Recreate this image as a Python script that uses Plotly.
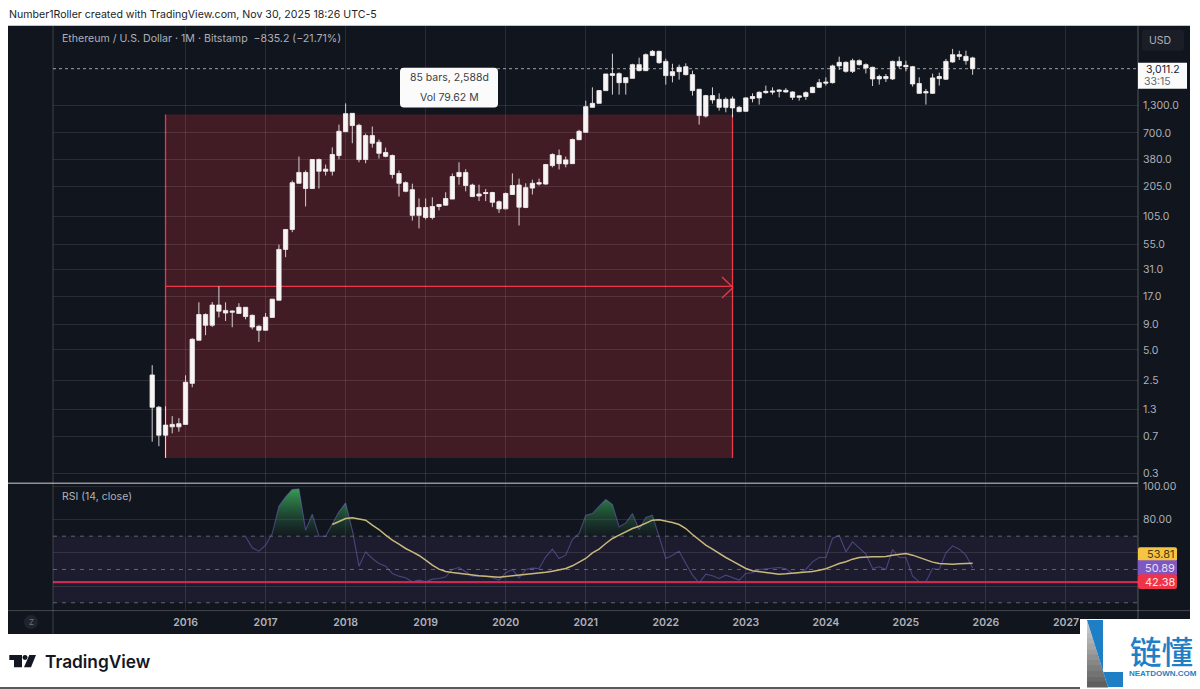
import numpy as np
import pandas as pd
import plotly.graph_objects as go

months = [d.strftime("%Y-%m") for d in pd.date_range("2015-08-01", periods=124, freq="MS")]
open_ = [2.83,1.36,.72,.87,.87,.92,2.34,6.24,11.2,8.78,13.9,12.3,11.8,11.5,13.2,11.0,8.58,7.83,10.5,15.5,
 49.3,77.6,222,284,197,381,292,292,417,719,1090,830,381,657,565,410,417,277,225,192,
 107,128,102,131,135,155,259,284,213,166,180,180,146,124,172,213,128,199,218,218,
 332,417,344,347,598,708,1250,1369,1828,2586,2690,2190,2416,3300,2880,4074,4465,3555,2572,2815,
 3150,2630,1885,1025,1632,1500,1250,1514,1250,1142,1524,1549,1746,1815,1798,1840,1773,1570,1600,1746,
 1970,2225,2190,3208,3478,2835,3615,3300,3105,2386,2520,2386,3555,3250,3150,2150,1736,1718,2402,2370,
 3510,4142,3990,3846]
high = [3.54,1.40,1.39,1.11,1.06,2.81,6.53,14.8,11.5,14.9,21.3,14.8,12.3,14.5,13.3,11.2,8.78,11.6,15.9,55,
 78,236,408,297,385,390,340,503,844,1369,1095,860,688,807,601,500,427,297,232,220,
 157,157,161,139,181,277,358,306,220,215,195,183,150,180,278,247,222,241,247,345,
 439,478,408,615,750,1456,1970,1850,2670,4237,2770,2470,3370,3872,4265,4610,4537,3785,3370,3300,
 3400,2880,1900,1660,1970,1718,1570,1600,1290,1570,1718,1800,2050,1970,1885,1935,1798,1632,1798,2002,
 2386,2473,3300,3960,3555,3785,3725,3400,3150,2630,2670,3615,3960,3615,3208,2473,1900,2690,2750,3760,
 4720,4537,4537,3950]
low = [.62,.56,.43,.75,.78,.92,2.14,6.24,7.0,8.43,10.5,9.67,8.39,11.5,10.05,8.0,6.0,7.83,10.5,15.5,
 41.3,73,222,131,197,197,265,265,383,719,552,358,350,500,390,400,247,164,181,95,
 79.5,97.5,97.5,120,134,155,215,185,162,148,148,129,113,123,170,85,126,172,211,215,
 319,304,319,347,598,708,1250,1369,1828,1669,1669,1669,2416,2835,2850,4000,3370,2094,2207,2347,
 2586,1632,844,990,1360,1160,1116,996,1120,1134,1400,1330,1700,1669,1570,1746,1480,1456,1480,1736,
 1935,2050,2150,2925,2750,2730,3230,2700,2030,2094,2225,2330,3040,2835,2002,1700,1330,1695,2050,2330,
 3452,3670,3300,2620]
close = [1.36,.72,.905,.92,.935,2.40,6.38,11.2,8.78,13.9,12.1,11.6,12.1,13.2,10.7,8.43,7.83,10.55,15.9,49.3,
 77.6,225,284,197,381,292,306,427,724,1083,825,381,657,552,439,447,271,222,185,107,
 128,102,131,137,157,259,284,211,164,174,176,144,124,176,211,129,201,222,225,340,
 427,347,378,601,724,1270,1369,1828,2670,2690,2190,2457,3300,2880,4142,4465,3452,2572,2815,3105,
 2630,1828,1036,1632,1480,1250,1500,1234,1134,1549,1600,1758,1798,1773,1850,1773,1570,1622,1746,1970,
 2190,2170,3208,3478,2835,3615,3300,3060,2386,2520,2402,3555,3208,3150,2127,1718,1786,2441,2520,3555,
 4142,3990,3615,3011.2]

rsi_first_bar = 14
rsi = [69.6,63,61,64.6,71.6,88,93.6,98,98.4,73.6,83.2,70,70,77,84.6,90,73.6,52,60.6,56.6,53.6,52,47.6,46,45,42.6,43.6,42.6,44.2,44.6,
 45.6,50,51.2,48.6,46,46,46,45.2,43.6,48,50,45,50,50.8,50.6,57.6,62.2,56.6,58.6,68,71.6,82.6,83.6,88,92,89,75.6,78,83.6,74,
 81.2,82.6,69.6,56.6,58.6,61,53.6,46.6,42,47.2,46.2,44.6,46.6,45,43.6,47.6,48,50,50.4,50.6,51.2,50.4,47.6,48,50,54.6,57.2,57.2,68.6,70.6,
 60.6,66.6,62.6,59.2,50.6,51.6,50,62,57.2,57.2,46,42.6,42.6,50.6,50,60,64.2,62.2,58.6,50.89]
sma_first_bar = 27
rsi_sma = [77,78.6,80.6,81,80.2,79.6,76.6,74,70.6,67.6,65.2,62.6,60.6,58.4,55.6,52.6,50.2,48.8,48.2,47.6,47,46.4,46.2,46,45.6,45.4,45.8,46.2,46.4,46.8,
 47.4,47.8,48.4,49,49.6,50.6,52.2,54.2,56.6,60,62.2,65.6,68.6,70.6,72.6,74.6,76,77.6,79.6,79.8,79.2,78.2,77,74.6,71,67.6,64.6,62.2,59.6,57.2,
 55,52.6,50.6,49.2,48.6,48,47.4,47.2,47.4,47.8,48,48.2,48.8,49.6,50.4,52,53.6,54.6,56.2,57.2,57.6,57.6,57.6,57.8,58.6,59.2,59.6,58.6,57.2,55.6,
 54.4,53.6,53.2,53.2,53.4,53.8,53.81]

year_labels = ["2016","2017","2018","2019","2020","2021","2022","2023","2024","2025","2026","2027"]
price_ticks = [1300,700,380,205,105,55,31,17,9,5,2.5,1.3,.7,.3]
price_tick_text = ["1,300.0","700.0","380.0","205.0","105.0","55.0","31.0","17.0","9.0","5.0","2.5","1.3","0.7","0.3"]
rsi_ticks = [100,80,60,40]
rsi_tick_text = ["100.00","80.00","",""]
range_first_bar, range_last_bar = 2, 87
range_high, range_low = 1059, .427
last_price = 3011.2
rsi_band = (70, 50, 30)
rsi_marker = 42.38

W, H = 1200, 689
px = lambda x: x / W
py = lambda y: 1 - (y - (3.3 - 0.0048 * y)) / H
DARK = "#11151d"
GRID = "rgba(255,255,255,0.10)"
RED = "#e8384a"
TXT = "#aeb1ba"
FONT = "Inter, Roboto, sans-serif"

bars = np.arange(len(months))
year_bars = [months.index("2016-01") + 12 * i for i in range(len(year_labels))]
bar_px0, bar_dx = 152.2, 6.67
x_range = [(53 - bar_px0) / bar_dx, (1138 - bar_px0) / bar_dx]

fig = go.Figure()
fig.add_trace(go.Scatter(x=x_range, y=[last_price, last_price], mode="lines",
    line=dict(color="rgba(235,235,235,0.65)", width=1, dash="dot"), hoverinfo="skip", xaxis="x", yaxis="y"))
fig.add_trace(go.Candlestick(x=bars, open=open_, high=high, low=low, close=close, whiskerwidth=0,
    increasing=dict(line=dict(color="rgba(245,240,240,0.85)", width=1), fillcolor="#f7f5f5"),
    decreasing=dict(line=dict(color="rgba(245,240,240,0.85)", width=1), fillcolor="#f7f5f5"),
    hoverinfo="skip", xaxis="x", yaxis="y"))

rsi_x = np.arange(len(rsi)) + rsi_first_bar
sma_x = np.arange(len(rsi_sma)) + sma_first_bar
fig.add_trace(go.Scatter(x=rsi_x, y=[rsi_band[0]] * len(rsi), mode="lines", line=dict(width=0),
    hoverinfo="skip", xaxis="x2", yaxis="y2"))
fig.add_trace(go.Scatter(x=rsi_x, y=np.maximum(rsi, rsi_band[0]), mode="lines", line=dict(width=0), fill="tonexty",
    fillgradient=dict(type="vertical", start=100, stop=70,
                      colorscale=[[0, "rgba(60,175,90,0.95)"], [1, "rgba(40,110,70,0.05)"]]),
    hoverinfo="skip", xaxis="x2", yaxis="y2"))
fig.add_trace(go.Scatter(x=rsi_x, y=rsi, mode="lines", line=dict(color="rgba(120,105,205,0.5)", width=1.1),
    hoverinfo="skip", xaxis="x2", yaxis="y2"))
fig.add_trace(go.Scatter(x=sma_x, y=rsi_sma, mode="lines", line=dict(color="#c9b87c", width=1.5),
    hoverinfo="skip", xaxis="x2", yaxis="y2"))

shapes = []
def rect(x0, y0, x1, y1, fill, layer="below"):
    shapes.append(dict(type="rect", xref="paper", yref="paper", x0=px(x0), x1=px(x1), y0=py(y0), y1=py(y1),
                       fillcolor=fill, line=dict(width=0), layer=layer))
def poly(pts, fill, layer="above"):
    path = "M " + " L ".join(f"{px(a):.5f},{py(b):.5f}" for a, b in pts) + " Z"
    shapes.append(dict(type="path", xref="paper", yref="paper", path=path, fillcolor=fill, line=dict(width=0), layer=layer))
def seg(x0, y0, x1, y1, color, width=1, dash=None, layer="above"):
    shapes.append(dict(type="line", xref="paper", yref="paper", x0=px(x0), x1=px(x1), y0=py(y0), y1=py(y1),
                       line=dict(color=color, width=width, dash=dash), layer=layer))
def rrect(x0, y0, x1, y1, r, fill):
    pts = [(x0 + r, y0), (x1 - r, y0), (x1, y0), (x1, y0 + r), (x1, y1 - r), (x1, y1), (x1 - r, y1), (x0 + r, y1), (x0, y1), (x0, y1 - r), (x0, y0 + r), (x0, y0)]
    f = lambda p: f"{px(p[0]):.5f},{py(p[1]):.5f}"
    path = f"M {f(pts[0])} L {f(pts[1])} Q {f(pts[2])} {f(pts[3])} L {f(pts[4])} Q {f(pts[5])} {f(pts[6])} L {f(pts[7])} Q {f(pts[8])} {f(pts[9])} L {f(pts[10])} Q {f(pts[11])} {f(pts[0])} Z"
    shapes.append(dict(type="path", xref="paper", yref="paper", path=path, fillcolor=fill, line=dict(width=0), layer="above"))

rect(0, -3, W, -1.2, "#2b2b2b")
rect(8, 25, 1190, 634, DARK)
rect(0, 687, 1080, 689, "#5a5a5a")
# measured range on the price pane
mid = float(np.sqrt(range_high * range_low))
shapes.append(dict(type="rect", xref="x", yref="y", x0=range_first_bar, x1=range_last_bar, y0=range_low, y1=range_high,
                   fillcolor="rgba(242,54,69,0.22)", line=dict(width=0), layer="below"))
for xa, ya, xb, yb in [(range_first_bar, range_low, range_first_bar, range_high),
                       (range_last_bar, range_low, range_last_bar, range_high),
                       (range_first_bar, mid, range_last_bar, mid)]:
    shapes.append(dict(type="line", xref="x", yref="y", x0=xa, x1=xb, y0=ya, y1=yb,
                       line=dict(color=RED, width=1.3), layer="below"))
# RSI band and levels
shapes.append(dict(type="rect", xref="paper", yref="y2", x0=px(53), x1=px(1138), y0=rsi_band[2], y1=rsi_band[0],
                   fillcolor="rgba(126,87,194,0.11)", line=dict(width=0), layer="below"))
for lv in rsi_band:
    shapes.append(dict(type="line", xref="paper", yref="y2", x0=px(53), x1=px(1138), y0=lv, y1=lv,
                       line=dict(color="rgba(200,200,205,0.42)", width=1, dash="4px 5px"), layer="below"))
shapes.append(dict(type="line", xref="paper", yref="y2", x0=px(53), x1=px(1138), y0=rsi_marker, y1=rsi_marker,
                   line=dict(color="#cf2850", width=2.2), layer="above"))
# panel separators
seg(8, 483, 1138, 483, "#8f9298", 1.6)
seg(53, 25, 53, 634, "rgba(255,255,255,0.18)", 1)
seg(1138, 25, 1138, 634, "rgba(255,255,255,0.28)", 1)
seg(8, 610.5, 1190, 610.5, "rgba(255,255,255,0.22)", 1)
# arrow head
seg(722, 276.5, 733, 287, RED, 1.3)
seg(722, 297.5, 733, 287, RED, 1.3)
# tooltip
rrect(400, 67, 498, 107, 4, "#fbfbfb")
# price axis boxes
rrect(1142, 29, 1184, 50, 3, "#1b1e26")
rect(1138, 62, 1187, 88, "#fbfbfb", "above")
rrect(1138, 547, 1177, 561, 2, "#f5c542")
rect(1138, 560, 1177, 575, "#7e57c2", "above")
rrect(1138, 574, 1177, 589, 2, "#ef3348")
# zoom button
shapes.append(dict(type="circle", xref="paper", yref="paper", x0=px(24), x1=px(38), y0=py(629), y1=py(615),
                   fillcolor="#20242d", line=dict(width=0), layer="above"))
# TradingView logo mark
poly([(9.3, 655), (22, 655), (22, 667.3), (14, 667.3), (14, 660), (9.3, 660)], "#131722")
shapes.append(dict(type="circle", xref="paper", yref="paper", x0=px(22.5), x1=px(27.5), y0=py(660), y1=py(655),
                   fillcolor="#131722", line=dict(width=0), layer="above"))
poly([(29.3, 655), (36, 655), (31, 667.3), (24, 667.3)], "#131722")
# watermark
rect(1080, 619, W, H + 5, "#ffffff", "above")
g0, g1 = 205, 95
n = 12
for i in range(n):
    y0 = 622 + (687 - 622) * i / n
    y1 = 622 + (687 - 622) * (i + 1) / n + 0.6
    c = int(g0 + (g1 - g0) * i / (n - 1))
    xe0 = 1087 + (y0 - 620) / 67 * 21
    xe1 = 1087 + (y1 - 620) / 67 * 21
    poly([(1087, y0), (xe0, y0), (xe1, y1), (1087, y1)], f"rgb({c},{c},{c})")
poly([(1087, 620), (1103, 620), (1103, 672), (1123, 672), (1123, 687), (1108, 687)], "#1f7fc6")

def label(x, y, s, size, color, anchor="left", family=FONT, weight=None):
    return dict(x=px(x), y=py(y), xref="paper", yref="paper", text=s, showarrow=False, xanchor=anchor, yanchor="middle",
                font=dict(size=size, color=color, family=family, weight=weight), borderpad=0)

annotations = [
    label(8, 14, "Number1Roller created with TradingView.com, Nov 30, 2025 18:26 UTC-5", 10.6, "#222428"),
    label(61, 38, "Ethereum / U.S. Dollar · 1M · Bitstamp  −835.2 (−21.71%)", 10.6, TXT),
    label(61, 496, "RSI (14, close)", 10.5, TXT),
    label(449, 77, "85 bars, 2,588d", 10.5, "#3c3f47", "center"),
    label(449, 96.5, "Vol 79.62 M", 10.5, "#3c3f47", "center"),
    label(1160, 39.5, "USD", 10.5, TXT, "center"),
    label(1163, 68.5, "3,011.2", 10.5, "#20232b", "center"),
    label(1157, 80.5, "33:15", 10.5, "#63666e", "center"),
    label(1160, 553.5, "53.81", 11, "#4a3c10", "center"),
    label(1160, 567.5, "50.89", 11, "#e8e0f5", "center"),
    label(1160, 582, "42.38", 11, "#ffe4e6", "center"),
    label(31, 622, "Z", 8, "#70747d", "center"),
    label(43.5, 661, "TradingView", 17.3, "#131722", weight=600),
    label(1161.5, 649.5, "链懂", 31.5, "#1f7fc6", "center", "Noto Sans CJK SC", 500),
    label(1163, 673, "NEATDOWN.COM", 8, "#1f7fc6", "center", "Liberation Sans", 700),
]

ax_common = dict(range=x_range, showgrid=True, gridcolor=GRID, gridwidth=1, zeroline=False, showline=False,
                 tickmode="array", tickvals=year_bars, ticks="")
fig.update_layout(
    width=W, height=H, margin=dict(l=0, r=0, t=0, b=0), autosize=False, showlegend=False,
    paper_bgcolor="#ffffff", plot_bgcolor="rgba(0,0,0,0)", font=dict(family=FONT, size=10.5, color=TXT),
    shapes=shapes, annotations=annotations, hovermode=False, dragmode=False, boxgap=0.08,
    xaxis=dict(domain=[px(53), px(1138)], anchor="y", showticklabels=False, rangeslider=dict(visible=False), **ax_common),
    yaxis=dict(domain=[py(482), py(25)], anchor="x", type="log", side="right",
               range=[3.1139 + (105 - 482) / 101.3, 3.1139 + (105 - 25) / 101.3],
               tickmode="array", tickvals=price_ticks, ticktext=price_tick_text, showgrid=True, gridcolor=GRID,
               zeroline=False, showline=False, ticks="", ticklabelstandoff=4, tickfont=dict(size=10.5, color=TXT)),
    xaxis2=dict(domain=[px(53), px(1138)], anchor="y2", ticktext=year_labels, showticklabels=True, ticklabelstandoff=4,
                tickfont=dict(size=10.5, color=TXT, weight=600), **ax_common),
    yaxis2=dict(domain=[py(610), py(484)], anchor="x2", side="right", range=[100 - (610 - 486) / 1.667, 100 + 2 / 1.667],
                tickmode="array", tickvals=rsi_ticks, ticktext=rsi_tick_text, showgrid=True, gridcolor=GRID,
                zeroline=False, showline=False, ticks="", ticklabelstandoff=4, tickfont=dict(size=10.5, color=TXT)),
)
fig.write_html("out.html", config={"displayModeBar": False}, post_script="document.body.style.margin='0';")
